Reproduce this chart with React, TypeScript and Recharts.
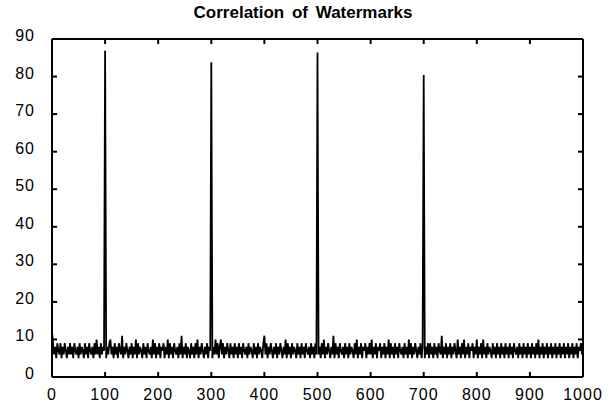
import React from 'react'
import { LineChart, Line, XAxis, YAxis, ReferenceLine } from 'recharts'

// correlation noise, one reading every 2 units from 0 to 1000
const noise = [
  12, 9, 6, 8, 5, 9, 7, 6, 9, 5, 8, 6, 9, 7, 5, 8, 6, 9, 6, 8, 5, 9, 7, 6, 8,
  5, 9, 6, 8, 7, 5, 9, 6, 8, 5, 9, 7, 6, 8, 5, 9, 6, 10, 6, 8, 5, 9, 6, 8, 7,
  9, 5, 8, 6, 9, 10, 6, 8, 5, 9, 6, 8, 5, 9, 7, 6, 11, 5, 8, 6, 9, 7, 5, 8, 6,
  9, 5, 8, 6, 10, 5, 9, 6, 8, 7, 5, 9, 6, 8, 5, 9, 7, 6, 8, 5, 10, 6, 9, 5, 8,
  6, 9, 5, 8, 7, 9, 5, 8, 6, 10, 5, 9, 6, 8, 5, 9, 7, 6, 8, 5, 9, 6, 11, 5, 8,
  6, 9, 5, 8, 7, 5, 9, 6, 8, 5, 9, 6, 10, 5, 8, 6, 9, 7, 5, 8, 6, 9, 5, 8, 7,
  9, 5, 8, 6, 10, 6, 9, 5, 8, 10, 6, 9, 5, 8, 6, 9, 7, 5, 9, 6, 8, 5, 9, 6, 8,
  5, 9, 6, 8, 5, 9, 7, 6, 8, 5, 9, 6, 8, 7, 5, 9, 6, 8, 5, 9, 6, 8, 7, 5, 9,
  11, 6, 9, 5, 8, 6, 9, 7, 5, 8, 6, 9, 5, 8, 6, 9, 7, 5, 8, 6, 10, 5, 9, 6, 8,
  5, 9, 6, 8, 7, 5, 9, 6, 8, 5, 9, 6, 8, 5, 9, 7, 6, 8, 5, 9, 6, 8, 5, 9, 6,
  9, 6, 8, 5, 9, 6, 10, 5, 8, 6, 9, 7, 5, 8, 6, 11, 5, 9, 6, 8, 5, 9, 7, 6, 8,
  5, 9, 6, 8, 5, 9, 6, 8, 7, 5, 9, 6, 10, 5, 8, 6, 9, 5, 8, 7, 9, 5, 8, 6, 9,
  6, 10, 5, 8, 6, 9, 5, 8, 7, 9, 5, 8, 6, 9, 5, 8, 6, 10, 5, 9, 6, 8, 5, 9, 6,
  8, 5, 9, 7, 6, 8, 5, 9, 6, 8, 5, 10, 6, 9, 5, 8, 6, 9, 7, 5, 8, 6, 9, 5, 8,
  9, 5, 8, 6, 9, 5, 9, 6, 8, 5, 9, 6, 8, 5, 9, 7, 6, 11, 5, 8, 6, 9, 5, 8, 6,
  9, 5, 8, 6, 9, 7, 5, 10, 6, 8, 5, 9, 6, 10, 5, 8, 6, 9, 5, 8, 7, 9, 5, 8, 6,
  10, 5, 8, 6, 9, 5, 10, 6, 8, 5, 9, 6, 8, 7, 5, 9, 6, 8, 5, 9, 6, 8, 5, 9, 6,
  8, 5, 9, 6, 8, 5, 9, 6, 8, 5, 9, 7, 6, 8, 5, 9, 6, 8, 5, 9, 6, 8, 5, 9, 6,
  8, 5, 9, 6, 8, 5, 9, 6, 10, 5, 8, 6, 9, 5, 8, 6, 9, 5, 8, 6, 9, 5, 8, 6, 9,
  5, 8, 6, 9, 5, 8, 6, 9, 5, 8, 6, 9, 5, 8, 6, 9, 5, 8, 6, 9, 5, 8, 7, 9, 6,
  7,
]
const step = 2

// watermark peaks
const peakX = [100, 300, 500, 700]
const peakY = [86.9, 83.8, 86.4, 80.4]

const xTicks = [0, 100, 200, 300, 400, 500, 600, 700, 800, 900, 1000]
const yTicks = [0, 10, 20, 30, 40, 50, 60, 70, 80, 90]

const data = noise.map((v, i) => {
  const x = i * step
  const p = peakX.indexOf(x)
  return { x, value: p >= 0 ? peakY[p] : v }
})

const font = '"Liberation Sans", Arial, sans-serif'
// inward tick length, in data units (about 5px each way)
const tickLenX = 9.5
const tickLenY = 1.35

const BottomTick = (props: any) => {
  const { x, y, payload } = props
  return (
    <text x={x} y={y + 23} textAnchor="middle" fontSize={16} letterSpacing={1} fontFamily={font} fill="#000">
      {payload.value}
    </text>
  )
}

const LeftTick = (props: any) => {
  const { x, y, payload } = props
  return (
    <text x={x - 17} y={y + 2} textAnchor="end" fontSize={16} letterSpacing={1} fontFamily={font} fill="#000">
      {payload.value}
    </text>
  )
}

export default function App() {
  return (
    <div style={{ position: 'absolute', left: 0, top: 0, width: 614, height: 410, background: '#fff' }}>
      <div
        style={{
          position: 'absolute',
          left: 0,
          top: 3,
          width: 606,
          textAlign: 'center',
          fontFamily: font,
          fontWeight: 'bold',
          fontSize: 17,
          wordSpacing: 3,
          color: '#000',
        }}
      >
        Correlation of Watermarks
      </div>
      <LineChart width={614} height={410} data={data} margin={{ top: 39, right: 31, bottom: 0, left: 0 }}>
        <XAxis
          dataKey="x"
          type="number"
          domain={[0, 1000]}
          ticks={xTicks}
          interval={0}
          height={33}
          tickSize={0}
          tickMargin={0}
          tickLine={false}
          axisLine={{ stroke: '#000', strokeWidth: 2 }}
          tick={<BottomTick />}
        />
        <YAxis
          type="number"
          domain={[0, 90]}
          ticks={yTicks}
          interval={0}
          width={52}
          tickSize={0}
          tickMargin={0}
          tickLine={false}
          axisLine={{ stroke: '#000', strokeWidth: 2 }}
          tick={<LeftTick />}
        />
        {/* box: top and right edges */}
        <ReferenceLine y={90} stroke="#000" strokeWidth={2} />
        <ReferenceLine x={1000} stroke="#000" strokeWidth={2} />
        {/* inward tick marks on all four sides */}
        {xTicks.slice(1, -1).map((t) => (
          <ReferenceLine key={'b' + t} segment={[{ x: t, y: 0 }, { x: t, y: tickLenY }]} stroke="#000" strokeWidth={2} />
        ))}
        {xTicks.slice(1, -1).map((t) => (
          <ReferenceLine key={'t' + t} segment={[{ x: t, y: 90 }, { x: t, y: 90 - tickLenY }]} stroke="#000" strokeWidth={2} />
        ))}
        {yTicks.slice(1, -1).map((t) => (
          <ReferenceLine key={'l' + t} segment={[{ x: 0, y: t }, { x: tickLenX, y: t }]} stroke="#000" strokeWidth={2} />
        ))}
        {yTicks.slice(1, -1).map((t) => (
          <ReferenceLine key={'r' + t} segment={[{ x: 1000, y: t }, { x: 1000 - tickLenX, y: t }]} stroke="#000" strokeWidth={2} />
        ))}
        <Line
          type="linear"
          dataKey="value"
          stroke="#000"
          strokeWidth={1.8}
          dot={false}
          isAnimationActive={false}
        />
      </LineChart>
    </div>
  )
}
